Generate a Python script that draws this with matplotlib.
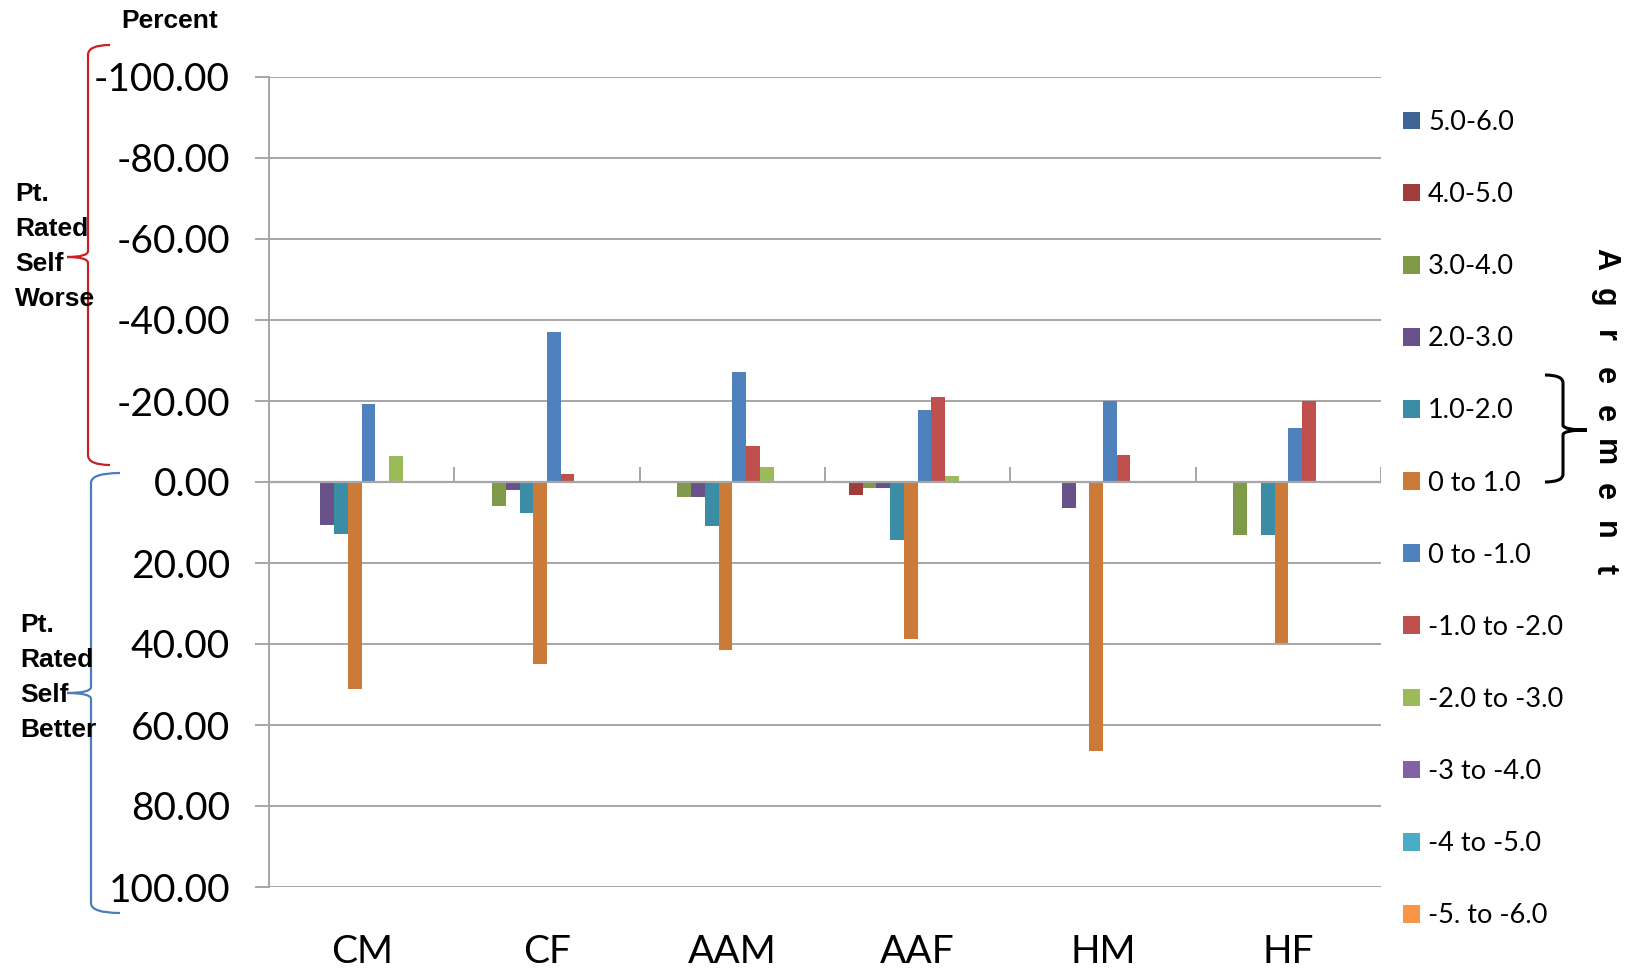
import matplotlib
matplotlib.use("Agg")
import matplotlib.pyplot as plt
import numpy as np
from matplotlib.path import Path
from matplotlib.patches import PathPatch

# ---------------- data ----------------
categories = ["CM", "CF", "AAM", "AAF", "HM", "HF"]
series_labels = ["5.0-6.0", "4.0-5.0", "3.0-4.0", "2.0-3.0", "1.0-2.0", "0 to 1.0",
                 "0 to -1.0", "-1.0 to -2.0", "-2.0 to -3.0", "-3 to -4.0",
                 "-4 to -5.0", "-5. to -6.0"]
s_5_6 = [0, 0, 0, 0, 0, 0]
s_4_5 = [0, 0, 0, 3.3, 0, 0]
s_3_4 = [0, 5.9, 3.6, 1.4, 0, 13.1]
s_2_3 = [10.6, 2.0, 3.6, 1.4, 6.4, 0]
s_1_2 = [12.8, 7.7, 10.9, 14.4, 0, 13.1]
s_0_1 = [51.0, 44.9, 41.5, 38.7, 66.4, 39.8]
s_0_m1 = [-19.2, -37.1, -27.2, -17.9, -20.0, -13.4]
s_m1_m2 = [0, -2.0, -9.0, -21.0, -6.7, -20.0]
s_m2_m3 = [-6.4, 0, -3.6, -1.6, 0, 0]
s_m3_m4 = [0, 0, 0, 0, 0, 0]
s_m4_m5 = [0, 0, 0, 0, 0, 0]
s_m5_m6 = [0, 0, 0, 0, 0, 0]
series_values = [s_5_6, s_4_5, s_3_4, s_2_3, s_1_2, s_0_1,
                 s_0_m1, s_m1_m2, s_m2_m3, s_m3_m4, s_m4_m5, s_m5_m6]
yticks = [-100, -80, -60, -40, -20, 0, 20, 40, 60, 80, 100]

colors = ["#3D6596", "#9E3D3A", "#7F9A48", "#69518A", "#3A8DA5", "#CC7A37",
          "#4F81BD", "#C0504D", "#9BBB59", "#8064A2", "#4BACC6", "#F79646"]

# ---------------- figure ----------------
W, H = 1634, 972
fig = plt.figure(figsize=(W / 100, H / 100), dpi=100)
ax = fig.add_axes([269 / W, 1 - 887 / H, (1381 - 269) / W, (887 - 77) / H])

n_series = len(series_values)
bw = 1 / (n_series + 1.5)
x = np.arange(len(categories))
for j, (vals, lab, col) in enumerate(zip(series_values, series_labels, colors)):
    ax.bar(x + (j - (n_series - 1) / 2) * bw, vals, width=bw, color=col,
           label=lab, linewidth=0, zorder=3)

ax.set_xlim(-0.5, len(categories) - 0.5)
ax.set_ylim(100, -100)
ax.set_yticks(yticks)
ax.set_yticklabels([f"{v:.2f}" for v in yticks], fontsize=28, family="Lato")
grid_col = "#A6A6A6"
ax.grid(axis="y", color=grid_col, linewidth=1.4, zorder=0)
ax.tick_params(axis="y", length=10, width=1.4, color=grid_col, pad=18)
for s in ["top", "right", "bottom"]:
    ax.spines[s].set_visible(False)
ax.spines["left"].set_color(grid_col)
ax.spines["left"].set_linewidth(1.4)

# zero line with category boundary ticks
ax.axhline(0, color=grid_col, linewidth=1.6, zorder=4)
bounds = np.arange(len(categories) + 1) - 0.5
ax.vlines(bounds[1:], 0, -3.7, color=grid_col, linewidth=1.4, zorder=4)

# category labels at bottom
ax.set_xticks(x)
ax.set_xticklabels(categories, fontsize=28, family="Lato")
ax.tick_params(axis="x", length=0, pad=34)

# legend
leg = fig.legend(loc="upper left", bbox_to_anchor=(1403 / W, 1 - 110 / H),
                 frameon=False, prop={"family": "Lato", "size": 19.5},
                 labelspacing=1.74, handlelength=0.63, handleheight=0.63,
                 handletextpad=0.3, borderpad=0, borderaxespad=0)

# overlay for annotations (pixel coordinates)
ov = fig.add_axes([0, 0, 1, 1], zorder=10)
ov.set_xlim(0, W)
ov.set_ylim(H, 0)
ov.axis("off")
ov.patch.set_alpha(0)


def brace(x_tip, x_line, x_cusp, y_top, y_mid, y_bot, r=10, rc=6):
    verts = [
        (x_tip, y_top),
        (x_line, y_top), (x_line, y_top + r),
        (x_line, y_mid - rc),
        (x_line, y_mid), (x_cusp, y_mid),
        (x_line, y_mid), (x_line, y_mid + rc),
        (x_line, y_bot - r),
        (x_line, y_bot), (x_tip, y_bot),
    ]
    codes = [Path.MOVETO, Path.CURVE3, Path.CURVE3, Path.LINETO,
             Path.CURVE3, Path.CURVE3, Path.CURVE3, Path.CURVE3,
             Path.LINETO, Path.CURVE3, Path.CURVE3]
    return Path(verts, codes)


ov.add_patch(PathPatch(brace(110, 88, 67, 45, 257, 465), fill=False,
                       edgecolor="#CC1F1F", linewidth=1.6))
ov.add_patch(PathPatch(brace(120, 91, 67, 473, 693, 913), fill=False,
                       edgecolor="#4A7EBB", linewidth=1.6))
ov.add_patch(PathPatch(brace(1545, 1563, 1587, 375, 430, 482, r=8, rc=5), fill=False,
                       edgecolor="black", linewidth=2.2))

ov.text(170, 21, "Percent", fontsize=19, fontweight="bold",
        family="Liberation Sans", ha="center", va="center")
ov.text(15, 182, "Pt.\nRated\nSelf\nWorse", fontsize=19, fontweight="bold",
        family="Liberation Sans", ha="left", va="top", linespacing=1.58)
ov.text(20, 613, "Pt.\nRated\nSelf\nBetter", fontsize=19, fontweight="bold",
        family="Liberation Sans", ha="left", va="top", linespacing=1.58)

word = "Agreement"
for k, ch in enumerate(word):
    ov.text(1605, 259 + k * 38.7, ch, fontsize=22, fontweight="bold",
            family="Liberation Sans", rotation=270, ha="center", va="center")

fig.savefig("out.png", dpi=100)
